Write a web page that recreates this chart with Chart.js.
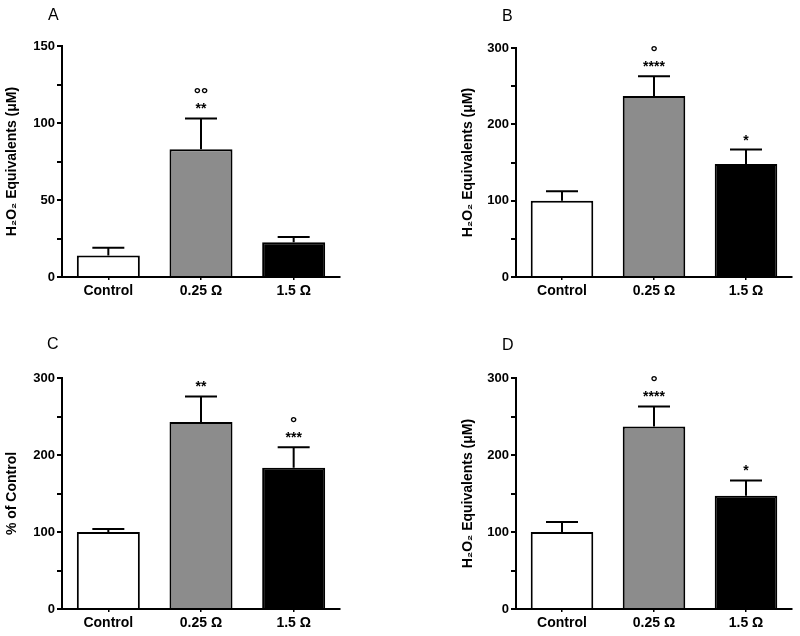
<!DOCTYPE html>
<html>
<head>
<meta charset="utf-8">
<script src="https://cdn.jsdelivr.net/npm/chart.js@4/dist/chart.umd.min.js"></script>
<style>
  html, body { margin: 0; padding: 0; background: #fff; }
  #wrap { position: relative; width: 800px; height: 636px; background: #fff; overflow: hidden; }
  .panel { position: absolute; width: 400px; height: 318px; }
  .letter { position: absolute; font: 16px/16px "Liberation Sans", Arial, sans-serif; color: #000; }
</style>
</head>
<body>
<div id="wrap">
  <div class="panel" style="left:0;top:0"><canvas id="cA" width="400" height="318"></canvas></div>
  <div class="panel" style="left:400px;top:0"><canvas id="cB" width="400" height="318"></canvas></div>
  <div class="panel" style="left:0;top:318px"><canvas id="cC" width="400" height="318"></canvas></div>
  <div class="panel" style="left:400px;top:318px"><canvas id="cD" width="400" height="318"></canvas></div>
  <div class="letter" style="left:48px;top:7px">A</div>
  <div class="letter" style="left:502px;top:8px">B</div>
  <div class="letter" style="left:47px;top:336px">C</div>
  <div class="letter" style="left:502px;top:337px">D</div>
</div>
<script>
// ---- data ----
const categories = ['Control', '0.25 Ω', '1.5 Ω'];

const valuesA = [14, 83, 22.5];
const errorsA = [5, 20, 3.5];
const starsA = ['', '**', ''];
const circlesA = ['', '°°', ''];

const valuesB = [100, 237, 148];
const errorsB = [12.5, 26, 19];
const starsB = ['', '****', '*'];
const circlesB = ['', '°', ''];

const valuesC = [100, 243, 183.5];
const errorsC = [4, 33, 26.5];
const starsC = ['', '**', '***'];
const circlesC = ['', '', '°'];

const valuesD = [100, 237, 147];
const errorsD = [13, 26, 20];
const starsD = ['', '****', '*'];
const circlesD = ['', '°', ''];

const yMaxA = 150, yMaxB = 300, yMaxC = 300, yMaxD = 300;
const titleH2O2 = 'H₂O₂ Equivalents (μM)';
const titlePct = '% of Control';

// ---- styling ----
const FONT = '"Liberation Sans", Arial, Helvetica, sans-serif';
const barFill = ['#ffffff', '#8c8c8c', '#000000'];

const errPlugin = {
  id: 'errbars',
  afterDatasetsDraw(chart, args, opts) {
    const ctx = chart.ctx;
    const meta = chart.getDatasetMeta(0);
    const ys = chart.scales.y;
    const data = chart.data.datasets[0].data;
    ctx.save();
    ctx.strokeStyle = '#000';
    ctx.fillStyle = '#000';
    ctx.lineWidth = 2;
    meta.data.forEach((bar, i) => {
      const v = data[i], e = opts.errors[i];
      const x = bar.x;
      const yBar = ys.getPixelForValue(v);
      const yTop = ys.getPixelForValue(v + e);
      ctx.beginPath();
      ctx.moveTo(x, yBar);
      ctx.lineTo(x, yTop);
      ctx.moveTo(x - 16, yTop);
      ctx.lineTo(x + 16, yTop);
      ctx.stroke();
      ctx.textAlign = 'center';
      ctx.textBaseline = 'alphabetic';
      ctx.font = 'bold 14px ' + FONT;
      if (opts.stars[i]) ctx.fillText(opts.stars[i], x, yTop - 5);
      ctx.font = 'bold 18px ' + FONT;
      if (opts.circles[i]) ctx.fillText(opts.circles[i], x, yTop - 18);
    });
    ctx.restore();
  }
};

function makeChart(id, values, errors, stars, circles, yMax, yTitle, lay) {
  const major = yMax / 3;
  return new Chart(document.getElementById(id), {
    type: 'bar',
    data: {
      labels: categories,
      datasets: [{
        data: values,
        backgroundColor: barFill,
        borderColor: '#000',
        borderWidth: 2,
        categoryPercentage: 1,
        barPercentage: 0.68
      }]
    },
    plugins: [errPlugin],
    options: {
      responsive: false,
      animation: false,
      devicePixelRatio: 1,
      layout: { padding: { left: lay.padL, top: lay.top, right: lay.padR, bottom: lay.padB } },
      plugins: {
        legend: { display: false },
        tooltip: { enabled: false },
        errbars: { errors: errors, stars: stars, circles: circles }
      },
      scales: {
        x: {
          grid: { display: true, drawOnChartArea: false, drawTicks: true, tickLength: 3, offset: false, color: '#000', lineWidth: 1.5 },
          border: { color: '#000', width: 2 },
          ticks: { color: '#000', padding: 3, font: { family: FONT, size: 14, weight: 'bold' } },
          afterFit: s => { s.height = 25; }
        },
        y: {
          min: 0,
          max: yMax,
          ticks: {
            stepSize: yMax / 6,
            autoSkip: false,
            color: '#000',
            padding: 2,
            font: { family: FONT, size: 13, weight: 'bold' },
            callback: v => (Math.abs(v % major) < 1e-9 ? v : '')
          },
          grid: { drawOnChartArea: false, drawTicks: true, tickLength: 5, color: '#000', lineWidth: 2 },
          border: { color: '#000', width: 2 },
          title: {
            display: true,
            text: yTitle,
            color: '#000',
            padding: { top: 4, bottom: 0 },
            font: { family: FONT, size: 14, weight: 'bold' }
          },
          afterFit: s => { s.width = lay.w; }
        }
      }
    }
  });
}

makeChart('cA', valuesA, errorsA, starsA, circlesA, yMaxA, titleH2O2, { padL: 0, w: 62, top: 46, padR: 60, padB: 16 });
makeChart('cB', valuesB, errorsB, starsB, circlesB, yMaxB, titleH2O2, { padL: 56, w: 60, top: 48, padR: 8, padB: 16 });
makeChart('cC', valuesC, errorsC, starsC, circlesC, yMaxC, titlePct, { padL: 0, w: 62, top: 60, padR: 60, padB: 2 });
makeChart('cD', valuesD, errorsD, starsD, circlesD, yMaxD, titleH2O2, { padL: 56, w: 60, top: 60, padR: 8, padB: 2 });
</script>
</body>
</html>
